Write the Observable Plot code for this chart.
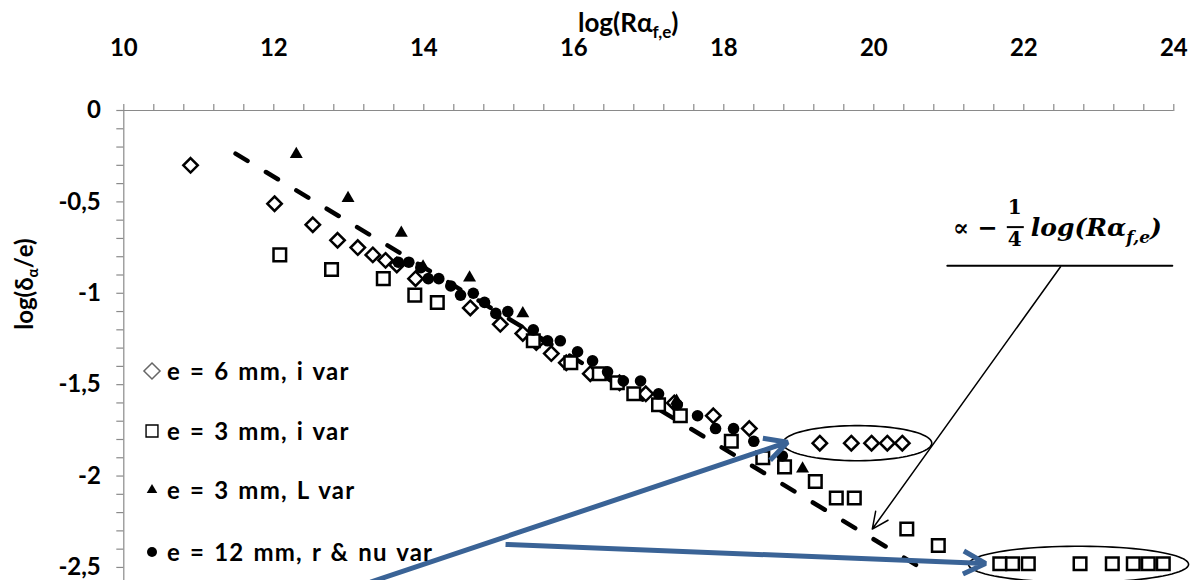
<!DOCTYPE html>
<html>
<head>
<meta charset="utf-8">
<script src="https://cdn.jsdelivr.net/npm/d3@7"></script>
<script src="https://cdn.jsdelivr.net/npm/@observablehq/plot@0.6"></script>
<style>
  html, body { margin: 0; padding: 0; background: #fff; }
  #wrap { position: relative; width: 1202px; height: 580px; overflow: hidden; }
</style>
</head>
<body>
<div id="wrap"></div>
<script>
// ---------------- data ----------------
const seriesNames = ["e = 6 mm, i var", "e = 3 mm, i var", "e = 3 mm, L var", "e = 12 mm, r & nu var"];

const diamondX = [10.89, 12.01, 12.52, 12.85, 13.12, 13.32, 13.49, 13.64, 13.89, 14.62, 15.02, 15.32, 15.50, 15.70, 15.90, 16.22, 16.61, 16.96, 17.34, 17.86, 18.34, 19.28, 19.70, 19.97, 20.18, 20.38];
const diamondY = [-0.30, -0.51, -0.625, -0.71, -0.75, -0.79, -0.82, -0.845, -0.92, -1.08, -1.17, -1.22, -1.27, -1.33, -1.38, -1.44, -1.49, -1.55, -1.60, -1.67, -1.74, -1.82, -1.82, -1.82, -1.82, -1.82];

const squareX = [12.08, 12.77, 13.46, 13.88, 14.18, 15.46, 15.96, 16.34, 16.58, 16.80, 17.13, 17.42, 18.10, 18.52, 18.81, 19.22, 19.50, 19.74, 20.44, 20.86, 21.68, 21.85, 22.06, 22.75, 23.18, 23.46, 23.66, 23.86];
const squareY = [-0.79, -0.87, -0.92, -1.01, -1.05, -1.26, -1.38, -1.44, -1.49, -1.55, -1.61, -1.67, -1.81, -1.90, -1.95, -2.03, -2.12, -2.12, -2.29, -2.38, -2.48, -2.48, -2.48, -2.48, -2.48, -2.48, -2.48, -2.48];

const triangleX = [12.30, 12.99, 13.70, 13.99, 14.61, 15.32, 17.37, 19.05];
const triangleY = [-0.24, -0.48, -0.67, -0.855, -0.915, -1.11, -1.59, -1.96];

const circleX = [13.66, 13.80, 13.96, 14.06, 14.20, 14.36, 14.49, 14.66, 14.81, 14.96, 15.12, 15.46, 15.65, 15.82, 16.05, 16.25, 16.45, 16.66, 16.89, 17.13, 17.38, 17.65, 17.89, 18.13, 18.40, 18.78];
const circleY = [-0.83, -0.83, -0.86, -0.92, -0.92, -0.96, -1.01, -1.00, -1.05, -1.11, -1.10, -1.20, -1.26, -1.26, -1.32, -1.37, -1.43, -1.48, -1.48, -1.55, -1.61, -1.67, -1.74, -1.74, -1.81, -1.89];

// dashed -1/4 slope guide line (two end points)
const fitX = [11.49, 20.62];
const fitY = [-0.236, -2.50];

// axis ticks
const xTickLabels = [10, 12, 14, 16, 18, 20, 22, 24];
const yTickValues = [0, -0.5, -1, -1.5, -2, -2.5];
const yTickLabels = ["0", "-0,5", "-1", "-1,5", "-2", "-2,5"];

// annotations (in data units)
const ellipseCx = [19.78, 22.73];
const ellipseCy = [-1.82, -2.483];
const ellipseRx = [0.993, 1.467];
const ellipseRy = [0.096, 0.099];
const blueArrowX1 = [15.09, 13.29];
const blueArrowY1 = [-2.374, -2.58];
const blueArrowX2 = [21.49, 18.85];
const blueArrowY2 = [-2.478, -1.815];
const blackArrow = {x1: 22.49, y1: -0.855, x2: 19.98, y2: -2.29};
const underlineX = [20.98, 23.98];
const underlineY = -0.85;

// ---------------- build tables ----------------
const zip = (xs, ys) => xs.map((x, i) => ({x, y: ys[i]}));
const diamonds = zip(diamondX, diamondY);
const squares = zip(squareX, squareY);
const triangles = zip(triangleX, triangleY);
const circles = zip(circleX, circleY);
const fit = zip(fitX, fitY);

const xMinorTicks = d3.range(0, 36).map(i => +(10 + i * 0.4).toFixed(2));
const yMinorTicks = d3.range(0, 26).map(i => -i / 10);

const ellipsePts = [];
ellipseCx.forEach((cx, k) => {
  for (let a = 0; a <= 360; a += 4) {
    const t = a * Math.PI / 180;
    ellipsePts.push({k, x: cx + ellipseRx[k] * Math.cos(t), y: ellipseCy[k] + ellipseRy[k] * Math.sin(t)});
  }
});
const blueArrows = blueArrowX1.map((x1, i) => ({x1, y1: blueArrowY1[i], x2: blueArrowX2[i], y2: blueArrowY2[i]}));

const AXIS = "#8a8a8a";
const BLUE = "#3a6396";
const FONT = "Lato, 'Noto Sans', sans-serif";

const chart = Plot.plot({
  width: 1202,
  height: 580,
  marginLeft: 123.3,
  marginRight: 28.7,
  marginTop: 110,
  marginBottom: 0,
  x: {domain: [10, 24]},
  y: {domain: [-2.5715, 0]},
  style: {fontFamily: FONT, background: "white", overflow: "visible", color: "#000"},
  marks: [
    Plot.ruleY([0], {stroke: AXIS, strokeWidth: 1.2}),
    Plot.ruleX([10], {stroke: AXIS, strokeWidth: 1.2}),
    Plot.axisX(xMinorTicks, {anchor: "top", tickSize: 7, stroke: AXIS, strokeWidth: 1.2, tickFormat: () => "", label: null}),
    Plot.axisX(xTickLabels, {anchor: "top", tickSize: 0, tickPadding: 55, fontSize: 24, fontWeight: "bold", fontFamily: FONT, fill: "#000", tickFormat: d => String(d), label: null}),
    Plot.axisY(yMinorTicks, {anchor: "left", tickSize: 7, stroke: AXIS, strokeWidth: 1.2, tickFormat: () => "", label: null}),
    Plot.axisY(yTickValues, {anchor: "left", tickSize: 0, tickPadding: 23, fontSize: 24, fontWeight: "bold", fontFamily: FONT, fill: "#000", tickFormat: d => yTickLabels[yTickValues.indexOf(d)], label: null}),

    // dashed guide
    Plot.line(fit, {x: "x", y: "y", stroke: "#000", strokeWidth: 4.5, strokeDasharray: "14,21.5", strokeLinecap: "round"}),

    // series
    Plot.dot(diamonds, {x: "x", y: "y", symbol: "diamond2", r: 6.5, fill: "white", stroke: "#000", strokeWidth: 2.5}),
    Plot.dot(squares, {x: "x", y: "y", symbol: "square2", r: 8, fill: "white", stroke: "#000", strokeWidth: 2.5}),
    Plot.dot(triangles, {x: "x", y: "y", symbol: "triangle2", r: 6.2, fill: "#000", stroke: "none"}),
    Plot.dot(circles, {x: "x", y: "y", r: 5.8, fill: "#000", stroke: "none"}),

    // annotations
    Plot.line(ellipsePts, {x: "x", y: "y", z: "k", stroke: "#000", strokeWidth: 1.6, curve: "linear"}),
    Plot.line([{x: underlineX[0], y: underlineY}, {x: underlineX[1], y: underlineY}], {x: "x", y: "y", stroke: "#000", strokeWidth: 2}),
    Plot.arrow([blackArrow], {x1: "x1", y1: "y1", x2: "x2", y2: "y2", stroke: "#000", strokeWidth: 1.5, headLength: 18, headAngle: 50}),
    Plot.arrow(blueArrows, {x1: "x1", y1: "y1", x2: "x2", y2: "y2", stroke: BLUE, strokeWidth: 5, headLength: 7.5, headAngle: 55, strokeLinecap: "butt"})
  ]
});

document.getElementById("wrap").appendChild(chart);

// ---------------- titles, legend, formula ----------------
const svg = d3.select(chart);
const sx = chart.scale("x"), sy = chart.scale("y");

// x-axis title (top)
const tx = svg.append("text")
  .attr("x", 578).attr("y", 32).attr("text-anchor", "start")
  .attr("font-family", FONT).attr("font-weight", "bold").attr("font-size", 26).attr("fill", "#000");
tx.append("tspan").text("log(Rα");
tx.append("tspan").attr("font-size", 17).attr("dy", 6).text("f,e");
tx.append("tspan").attr("dy", -6).text(")");

// y-axis title (left, rotated)
const ty = svg.append("text")
  .attr("transform", "translate(33,284) rotate(-90)")
  .attr("text-anchor", "middle")
  .attr("font-family", FONT).attr("font-weight", "bold").attr("font-size", 24).attr("fill", "#000");
ty.append("tspan").text("log(δ");
ty.append("tspan").attr("font-size", 15).attr("dy", 5).text("α");
ty.append("tspan").attr("dy", -5).text("/e)");

// legend
const lg = svg.append("g").attr("font-family", FONT).attr("font-weight", "bold").attr("font-size", 24).attr("fill", "#000").attr("text-anchor", "start");
const legendY = [371, 431, 490, 552];
const legendSym = ["diamond2", "square2", "triangle2", "circle"];
legendY.forEach((yy, i) => {
  const s = legendSym[i];
  if (s === "diamond2") {
    lg.append("path").attr("d", d3.symbol(d3.symbolDiamond2, 165)()).attr("transform", `translate(152,${yy})`)
      .attr("fill", "white").attr("stroke", "#666").attr("stroke-width", 1.5);
  } else if (s === "square2") {
    lg.append("path").attr("d", d3.symbol(d3.symbolSquare2, 180)()).attr("transform", `translate(152,${yy})`)
      .attr("fill", "white").attr("stroke", "#000").attr("stroke-width", 1.4);
  } else if (s === "triangle2") {
    lg.append("path").attr("d", d3.symbol(d3.symbolTriangle2, 80)()).attr("transform", `translate(152,${yy})`)
      .attr("fill", "#000");
  } else {
    lg.append("circle").attr("cx", 152).attr("cy", yy).attr("r", 5).attr("fill", "#000");
  }
  lg.append("text").attr("x", 167).attr("y", yy + 8.5).attr("letter-spacing", 1.2).attr("word-spacing", 2).text(seriesNames[i]);
});

// formula  ∝ -1/4 log(Rα_f,e)
const fx = sx.apply(21.06), fy = sy.apply(-0.69);
const fg = svg.append("g").attr("font-family", "'DejaVu Serif', serif").attr("fill", "#000").attr("text-anchor", "start");
fg.append("text").attr("x", fx).attr("y", fy).attr("font-size", 24).attr("font-weight", "bold").text("∝ −");
fg.append("text").attr("x", fx + 62).attr("y", fy - 22).attr("font-size", 20).attr("font-weight", "bold").attr("text-anchor", "middle").text("1");
fg.append("line").attr("x1", fx + 54).attr("x2", fx + 71).attr("y1", fy - 9).attr("y2", fy - 9).attr("stroke", "#000").attr("stroke-width", 2);
fg.append("text").attr("x", fx + 62).attr("y", fy + 10).attr("font-size", 20).attr("font-weight", "bold").attr("text-anchor", "middle").text("4");
const ft = fg.append("text").attr("x", fx + 78).attr("y", fy).attr("font-size", 25).attr("font-weight", "bold").attr("font-style", "italic");
ft.append("tspan").text("log(Rα");
ft.append("tspan").attr("font-size", 17).attr("dy", 7).text("f,e");
ft.append("tspan").attr("dy", -7).attr("font-size", 25).text(")");
</script>
</body>
</html>
